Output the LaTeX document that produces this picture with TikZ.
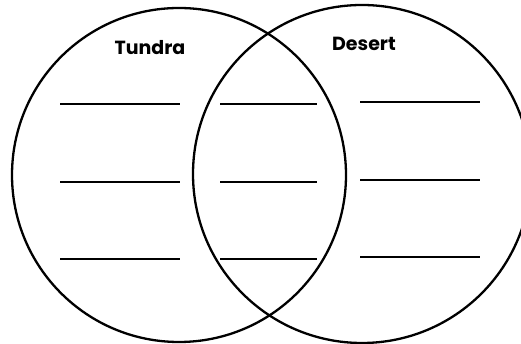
\documentclass[tikz,border=0pt]{standalone}
\usepackage{fontspec}
\setmainfont{Poppins}
\usepackage{tikz}
\usetikzlibrary{calc,positioning}

\begin{document}
\begin{tikzpicture}[x=1pt,y=1pt]
      % Page frame
      \useasboundingbox (0,0) rectangle (521,344);
      \clip (0,0) rectangle (521,344);
      % Define coordinates
      \coordinate (L) at (179,169);
      \coordinate (R) at (362,170);
      % Draw the two circles
      \draw[line width=2.3pt] (L) circle (167);
      \draw[line width=2.3pt] (R) circle (169);
      % Titles
      \node[font=\fontsize{19}{21}\selectfont\bfseries] (tundra) at (150,296) {Tundra};
      \node[font=\fontsize{19}{21}\selectfont\bfseries] (desert) at (364,300) {Desert};
      % Blank lines
      \foreach \y in {240,162,85} {
        \draw[line width=1.4pt] (60,\y) -- (180,\y);
        \draw[line width=1.4pt] (220,\y) -- (317,\y);
        \draw[line width=1.4pt] (360,\y+2) -- (480,\y+2);
      }
    \end{tikzpicture}
\end{document}
